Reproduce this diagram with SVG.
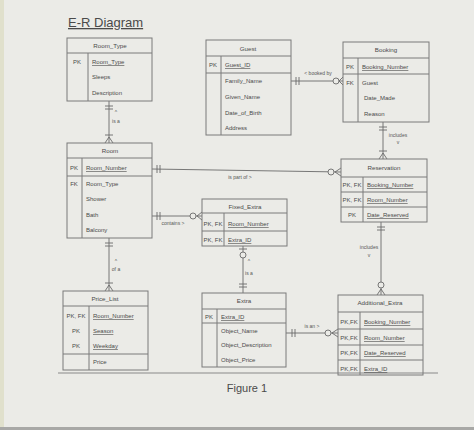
<svg xmlns="http://www.w3.org/2000/svg" width="474" height="430" viewBox="0 0 474 430">
<style>
.bg{fill:#ebebe7}
.box{fill:none;stroke:#7a7a7a;stroke-width:1}
.ln{stroke:#7a7a7a;stroke-width:1;fill:none}
.cn{stroke:#6a6a6a;stroke-width:0.9;fill:none}
.ci{stroke:#6a6a6a;stroke-width:0.9;fill:#ebebe7}
text{font-family:"Liberation Sans",Arial,sans-serif;fill:#4a4a4a}
.h{font-size:6.2px;text-anchor:middle}
.f{font-size:6px}
.k{font-size:6px;text-anchor:middle}
.u{text-decoration:underline}
.lb{font-size:5px;text-anchor:middle;fill:#555}
</style>
<rect class="bg" x="0" y="0" width="474" height="430"/>
<rect x="0" y="0" width="4" height="430" fill="#e0e0cc"/>
<rect x="0" y="427" width="474" height="3" fill="#a8a8a6"/>
<line x1="58" y1="373" x2="438" y2="373" stroke="#8a8a8a" stroke-width="1.2"/>
<text x="68" y="27" font-size="13" fill="#333" style="text-decoration:underline">E-R Diagram</text>
<text x="247" y="392" font-size="11" text-anchor="middle" fill="#555">Figure 1</text>

<g id="connectors">
  <!-- Room_Type - Room -->
  <line class="cn" x1="109" y1="101" x2="109" y2="143"/>
  <path class="cn" d="M105 106H113M105 109H113M105 135H113M109 137L105 143M109 137L113 143"/>
  <text class="lb" x="116" y="114">^</text>
  <text class="lb" x="116" y="123">is a</text>
  <!-- Guest - Booking -->
  <line class="cn" x1="291" y1="81" x2="343" y2="81"/>
  <path class="cn" d="M296 77V85M299 77V85M339 81L343 77M339 81L343 85"/>
  <circle class="ci" cx="336" cy="81" r="3"/>
  <text class="lb" x="318" y="75">&lt; booked by</text>
  <!-- Room - Reservation -->
  <line class="cn" x1="152" y1="169" x2="341" y2="172"/>
  <path class="cn" d="M157 165V173M160 165V173M335 172L341 168M335 172L341 176"/>
  <circle class="ci" cx="331" cy="172" r="3"/>
  <text class="lb" x="240" y="179">is part of &gt;</text>
  <!-- Room - Fixed_Extra -->
  <line class="cn" x1="152" y1="216" x2="202" y2="216"/>
  <path class="cn" d="M157 212V220M160 212V220M197 216L202 212M197 216L202 220"/>
  <circle class="ci" cx="193" cy="216" r="3"/>
  <text class="lb" x="173" y="225">contains &gt;</text>
  <!-- Booking - Reservation -->
  <line class="cn" x1="383" y1="122" x2="383" y2="159"/>
  <path class="cn" d="M379 127H387M379 130H387M379 151H387M383 153L379 159M383 153L387 159"/>
  <text class="lb" x="398" y="137">includes</text>
  <text class="lb" x="398" y="144">v</text>
  <!-- Reservation - Additional_Extra -->
  <line class="cn" x1="381" y1="222" x2="381" y2="295"/>
  <path class="cn" d="M377 227H385M377 230H385M381 289L377 295M381 289L385 295"/>
  <circle class="ci" cx="381" cy="285" r="3"/>
  <text class="lb" x="369" y="249">includes</text>
  <text class="lb" x="369" y="257">v</text>
  <!-- Fixed_Extra - Extra -->
  <line class="cn" x1="243" y1="246" x2="243" y2="293"/>
  <path class="cn" d="M239 249H247M239 284H247M239 287H247"/>
  <circle class="ci" cx="243" cy="255" r="3"/>
  <text class="lb" x="249" y="263">^</text>
  <text class="lb" x="249" y="275">is a</text>
  <!-- Room - Price_List -->
  <line class="cn" x1="109" y1="238" x2="109" y2="291"/>
  <path class="cn" d="M105 243H113M105 246H113M105 283H113M109 285L105 291M109 285L113 291"/>
  <text class="lb" x="116" y="263">^</text>
  <text class="lb" x="116" y="271">of a</text>
  <!-- Extra - Additional_Extra -->
  <line class="cn" x1="286" y1="333" x2="338" y2="333"/>
  <path class="cn" d="M292 329V337M295 329V337M332 333L338 329M332 333L338 337"/>
  <circle class="ci" cx="328" cy="333" r="3"/>
  <text class="lb" x="312" y="328">is an &gt;</text>
</g>

<g id="room_type">
  <rect class="box" x="67" y="38" width="85" height="63"/>
  <path class="ln" d="M67 53H152M88 53V101"/>
  <text class="h" x="110" y="48">Room_Type</text>
  <text class="k" x="77" y="64">PK</text>
  <text class="f u" x="92" y="64">Room_Type</text>
  <text class="f" x="92" y="79">Sleeps</text>
  <text class="f" x="92" y="95">Description</text>
</g>

<g id="guest">
  <rect class="box" x="206" y="40" width="85" height="95"/>
  <path class="ln" d="M206 56H291M206 73H291M221 56V135"/>
  <text class="h" x="248" y="51">Guest</text>
  <text class="k" x="213" y="67">PK</text>
  <text class="f u" x="225" y="67">Guest_ID</text>
  <text class="f" x="225" y="83">Family_Name</text>
  <text class="f" x="225" y="99">Given_Name</text>
  <text class="f" x="225" y="115">Date_of_Birth</text>
  <text class="f" x="225" y="130">Address</text>
</g>

<g id="booking">
  <rect class="box" x="343" y="42" width="86" height="80"/>
  <path class="ln" d="M343 58H429M343 74H429M358 58V122"/>
  <text class="h" x="386" y="52">Booking</text>
  <text class="k" x="350" y="69">PK</text>
  <text class="f u" x="362" y="69">Booking_Number</text>
  <text class="k" x="350" y="85">FK</text>
  <text class="f" x="362" y="85">Guest</text>
  <text class="f" x="364" y="100">Date_Made</text>
  <text class="f" x="364" y="116">Reason</text>
</g>

<g id="room">
  <rect class="box" x="67" y="143" width="85" height="95"/>
  <path class="ln" d="M67 158H152M67 176H152M82 158V238"/>
  <text class="h" x="110" y="153">Room</text>
  <text class="k" x="74" y="170">PK</text>
  <text class="f u" x="86" y="170">Room_Number</text>
  <text class="k" x="74" y="186">FK</text>
  <text class="f" x="86" y="186">Room_Type</text>
  <text class="f" x="86" y="201">Shower</text>
  <text class="f" x="86" y="217">Bath</text>
  <text class="f" x="86" y="232">Balcony</text>
</g>

<g id="reservation">
  <rect class="box" x="341" y="159" width="86" height="63"/>
  <path class="ln" d="M341 177H427M341 192H427M341 207H427M363 177V222"/>
  <text class="h" x="384" y="170">Reservation</text>
  <text class="k" x="352" y="187">PK, FK</text>
  <text class="f u" x="367" y="187">Booking_Number</text>
  <text class="k" x="352" y="202">PK, FK</text>
  <text class="f u" x="367" y="202">Room_Number</text>
  <text class="k" x="352" y="217">PK</text>
  <text class="f u" x="367" y="217">Date_Reserved</text>
</g>

<g id="fixed_extra">
  <rect class="box" x="202" y="199" width="85" height="47"/>
  <path class="ln" d="M202 213H287M202 231H287M224 213V246"/>
  <text class="h" x="245" y="209">Fixed_Extra</text>
  <text class="k" x="213" y="226">PK, FK</text>
  <text class="f u" x="228" y="226">Room_Number</text>
  <text class="k" x="213" y="242">PK, FK</text>
  <text class="f u" x="228" y="242">Extra_ID</text>
</g>

<g id="price_list">
  <rect class="box" x="63" y="291" width="85" height="79"/>
  <path class="ln" d="M63 306H148M63 354H148M89 306V370"/>
  <text class="h" x="105" y="301">Price_List</text>
  <text class="k" x="76" y="318">PK, FK</text>
  <text class="f u" x="93" y="318">Room_Number</text>
  <text class="k" x="76" y="333">PK</text>
  <text class="f u" x="93" y="333">Season</text>
  <text class="k" x="76" y="348">PK</text>
  <text class="f u" x="93" y="348">Weekday</text>
  <text class="f" x="93" y="364">Price</text>
</g>

<g id="extra">
  <rect class="box" x="202" y="293" width="84" height="74"/>
  <path class="ln" d="M202 309H286M202 323H286M217 309V367"/>
  <text class="h" x="244" y="303">Extra</text>
  <text class="k" x="209" y="319">PK</text>
  <text class="f u" x="221" y="319">Extra_ID</text>
  <text class="f" x="221" y="333">Object_Name</text>
  <text class="f" x="221" y="347">Object_Description</text>
  <text class="f" x="221" y="362">Object_Price</text>
</g>

<g id="additional_extra">
  <rect class="box" x="338" y="295" width="85" height="80"/>
  <path class="ln" d="M338 312H423M338 329H423M338 345H423M338 360H423M360 312V375"/>
  <text class="h" x="380" y="305">Additional_Extra</text>
  <text class="k" x="349" y="324">PK,FK</text>
  <text class="f u" x="364" y="324">Booking_Number</text>
  <text class="k" x="349" y="340">PK,FK</text>
  <text class="f u" x="364" y="340">Room_Number</text>
  <text class="k" x="349" y="355">PK,FK</text>
  <text class="f u" x="364" y="355">Date_Reserved</text>
  <text class="k" x="349" y="371">PK,FK</text>
  <text class="f u" x="364" y="371">Extra_ID</text>
</g>
</svg>
